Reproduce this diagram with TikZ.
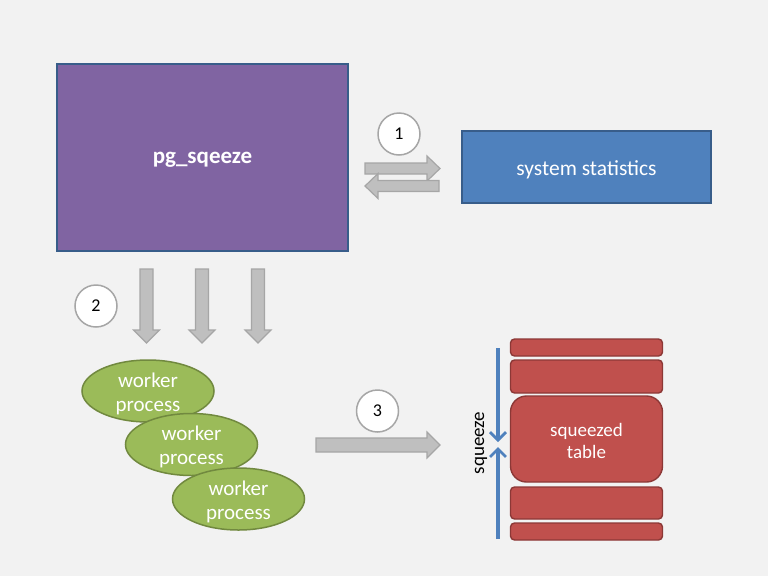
\documentclass[tikz,border=0pt]{standalone}
\usepackage{fontspec}
\setmainfont{Carlito}
\usetikzlibrary{arrows.meta,shapes.geometric}
\definecolor{bg}{HTML}{F2F2F2}
\definecolor{purp}{HTML}{8064A2}
\definecolor{bluef}{HTML}{4F81BD}
\definecolor{blued}{HTML}{385D8A}
\definecolor{greenf}{HTML}{9BBB59}
\definecolor{greend}{HTML}{71893F}
\definecolor{redf}{HTML}{C0504D}
\definecolor{redd}{HTML}{8C3836}
\definecolor{arrf}{HTML}{BFBFBF}
\definecolor{arrd}{HTML}{A6A6A6}
\tikzset{
  box/.style={draw=blued, line width=1.5pt, inner sep=0pt, text=white},
  intext/.style={text=white, align=center, inner sep=0pt},
  worker/.style={ellipse, draw=greend, fill=greenf, line width=1.5pt, minimum width=132pt, minimum height=62pt, inner sep=0pt,
    label={[intext, yshift=-2.5pt, font=\fontsize{21}{24}\selectfont]center:worker\\process}},
  numc/.style={circle, draw=arrd, fill=white, line width=1.5pt, minimum size=42pt, inner sep=0pt, font=\fontsize{18}{20}\selectfont},
  bar/.style={draw=redd, fill=redf, line width=1.4pt, rounded corners=4pt, minimum width=152pt, inner sep=0pt},
  blockarrow/.style={draw=arrd, fill=arrf, line width=1.2pt, line join=miter},
  squeezeline/.style={draw=bluef, line width=3.5pt, -{Straight Barb[length=8pt,width=16pt,line width=2.8pt]}}
}
\begin{document}
\begin{tikzpicture}[x=1pt,y=-1pt]
\fill[bg] (0,0) rectangle (768,576);
\useasboundingbox (0,0) rectangle (768,576);

% main boxes
\node[box, fill=purp, minimum width=291pt, minimum height=187pt,
  label={[intext, yshift=-2.5pt, font=\bfseries\fontsize{23}{26}\selectfont]center:pg\_sqeeze}] (pg) at (202.5,157.5) {};
\node[box, fill=bluef, minimum width=249pt, minimum height=72pt,
  label={[intext, yshift=-2.5pt, font=\fontsize{21.5}{25}\selectfont]center:system statistics}] (stat) at (586.5,167) {};

% numbers
\node[numc] (n1) at (399,134) {1};
\node[numc] (n2) at (96,306) {2};
\node[numc] (n3) at (377.5,411) {3};

% arrows 1
\draw[blockarrow] (365,163) -- (427,163) -- (427,156) -- (440,168.5) -- (427,181) -- (427,174) -- (365,174) -- cycle;
\draw[blockarrow] (439,180.5) -- (378,180.5) -- (378,173.5) -- (365,186) -- (378,198.5) -- (378,191.5) -- (439,191.5) -- cycle;

% down arrows
\foreach \cx in {146.5,202,258}{
  \draw[blockarrow] (\cx-6.5,269) -- (\cx+6.5,269) -- (\cx+6.5,330) -- (\cx+13,330) -- (\cx,343) -- (\cx-13,330) -- (\cx-6.5,330) -- cycle;
}

% workers
\node[worker] (w1) at (148,391) {};
\node[worker] (w2) at (191.5,444.5) {};
\node[worker] (w3) at (238.5,499) {};

% arrow 3
\draw[blockarrow] (316,438) -- (427,438) -- (427,432) -- (440,445) -- (427,458) -- (427,452) -- (316,452) -- cycle;

% table bars
\node[bar, minimum height=17pt] (b1) at (586.5,347.5) {};
\node[bar, minimum height=33pt] (b2) at (586.5,376.5) {};
\node[bar, minimum height=86pt, rounded corners=16pt,
  label={[intext, yshift=-2pt, font=\fontsize{19}{22}\selectfont]center:squeezed\\table}] (big) at (586.5,439) {};
\node[bar, minimum height=32pt] (b4) at (586.5,503) {};
\node[bar, minimum height=17pt] (b5) at (586.5,531.5) {};

% squeeze arrows
\coordinate (st) at (498,348);
\coordinate (sm1) at (498,442);
\coordinate (sm2) at (498,447);
\coordinate (sb) at (498,539);
\draw[squeezeline] (st) -- (sm1);
\draw[squeezeline] (sb) -- (sm2);
\node[rotate=90, font=\fontsize{19}{22}\selectfont, inner sep=0pt] (sq) at (481,443) {squeeze};
\end{tikzpicture}
\end{document}
